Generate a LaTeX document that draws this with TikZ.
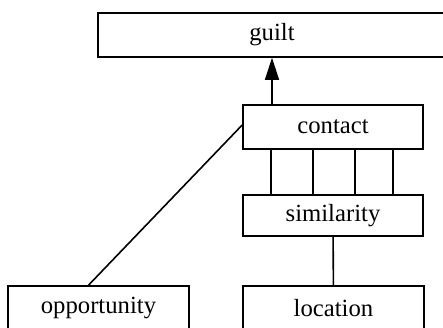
\documentclass[tikz,border=0pt]{standalone}
\usepackage{fontspec}
\setmainfont{Liberation Serif}
\usetikzlibrary{arrows.meta}

\begin{document}
\begin{tikzpicture}[x=1pt,y=-1pt,>={Triangle[length=22pt,width=14pt]},
  line width=1.6pt,
  box/.style={draw,inner sep=0pt,minimum height=44pt,
    font=\fontsize{24.7}{29}\selectfont}]

\useasboundingbox (0,0) rectangle (443,328);
\clip (0,0) rectangle (443,328);

\node[box,minimum width=348pt] (guilt)       at (272,35)    {guilt};
\node[box,minimum width=180pt] (contact)     at (333,127)   {contact};
\node[box,minimum width=180pt,minimum height=41pt] (similarity) at (333,215.5) {similarity};
\node[box,minimum width=181pt] (opportunity) at (98.5,308)  {opportunity};
\node[box,minimum width=181pt] (location)    at (333.5,308) {location};

\draw[->] (contact.north -| guilt.south) -- (guilt.south);
\foreach \dx in {29,71,113,151}
  \draw ([xshift=\dx pt]contact.south west) -- ([xshift=\dx pt]similarity.north west);
\draw (similarity) -- (location);
\draw ([xshift=-10pt]opportunity.north) -- ([yshift=2pt]contact.west);
\end{tikzpicture}
\end{document}
